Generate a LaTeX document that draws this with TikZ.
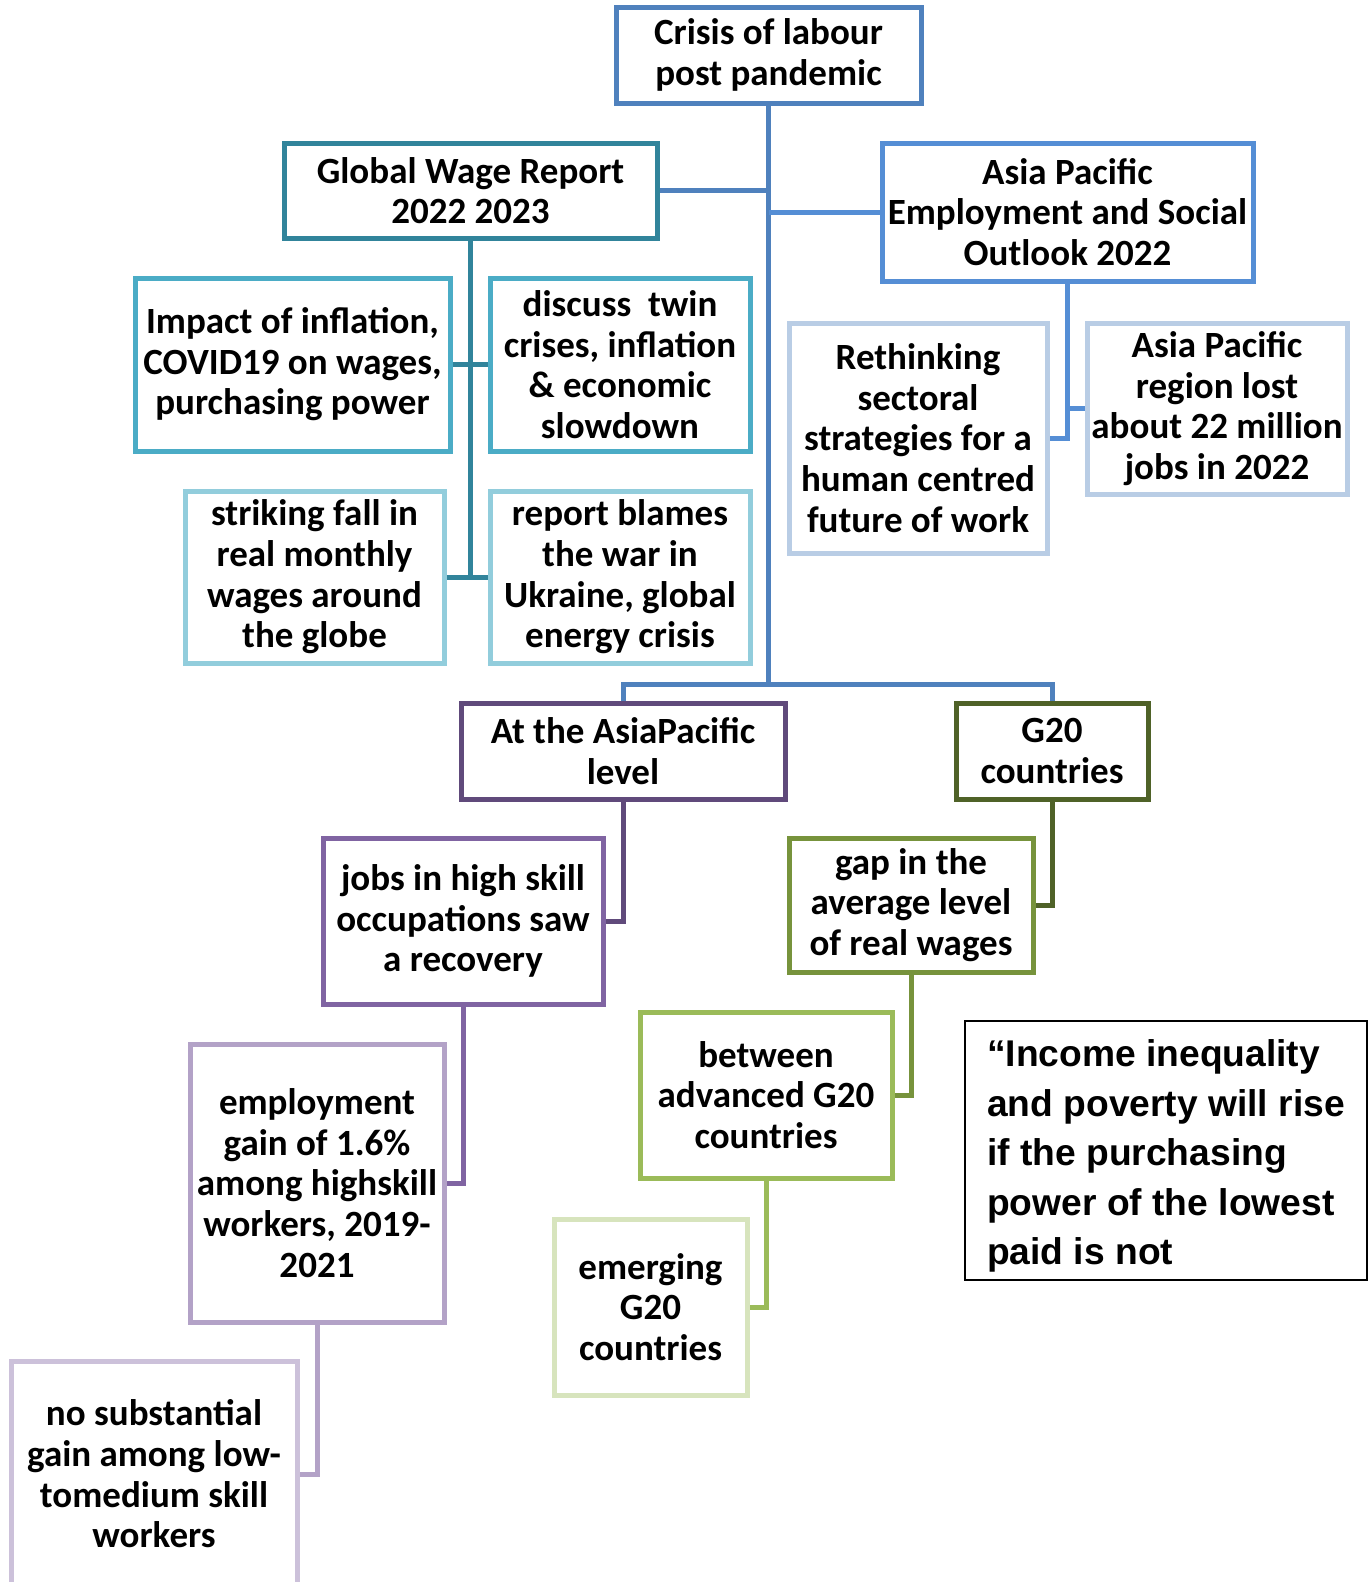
\documentclass[tikz,border=0pt]{standalone}
\usepackage{fontspec}
\setmainfont{Carlito}
\newfontfamily\qfont{Liberation Sans}
\definecolor{trunkc}{HTML}{4F81BD}
\definecolor{rootc}{HTML}{4F81BD}
\definecolor{gwc}{HTML}{31849B}
\definecolor{gwa}{HTML}{4BACC6}
\definecolor{gwb}{HTML}{92CDDC}
\definecolor{apc}{HTML}{558ED5}
\definecolor{apa}{HTML}{B9CDE5}
\definecolor{lvc}{HTML}{604A7B}
\definecolor{lva}{HTML}{8064A2}
\definecolor{lvb}{HTML}{B3A2C7}
\definecolor{lvd}{HTML}{CCC1DA}
\definecolor{gc}{HTML}{4F6228}
\definecolor{ga}{HTML}{77933C}
\definecolor{gb}{HTML}{9BBB59}
\definecolor{gd}{HTML}{D7E4BD}
\tikzset{
  bx/.style={draw, line width=5pt, fill=white, inner sep=0pt, align=center,
    font=\fontsize{37}{40.6}\selectfont\bfseries, text=black},
  cn/.style={line width=5pt},
}
\begin{document}
\begin{tikzpicture}[x=1pt,y=-1pt]
\useasboundingbox (0,0) rectangle (1371,1582);
\clip (0,0) rectangle (1371,1582);
% nodes
\node[bx, draw=rootc, minimum width=305, minimum height=96] (root) at (768.5,55) {Crisis of labour\\post pandemic};
\node[bx, draw=gwc, minimum width=373, minimum height=95] (gw) at (470.5,190.5) {Global Wage Report\\2022 2023};
\node[bx, draw=apc, minimum width=371, minimum height=138] (ap) at (1067.5,212) {Asia Pacific\\Employment and Social\\Outlook 2022};
\node[bx, draw=gwa, minimum width=315, minimum height=173] (imp) at (292.5,364.5) {Impact of inflation,\\COVID19 on wages,\\purchasing power};
\node[bx, draw=gwa, minimum width=260, minimum height=173] (disc) at (620,364.5) {discuss~ twin\\crises, inflation\\\& economic\\slowdown};
\node[bx, draw=gwb, minimum width=259, minimum height=172] (strike) at (314.5,577) {striking fall in\\real monthly\\wages around\\the globe};
\node[bx, draw=gwb, minimum width=260, minimum height=172] (rep) at (620,577) {report blames\\the war in\\Ukraine, global\\energy crisis};
\node[bx, draw=apa, minimum width=258, minimum height=230] (reth) at (918,438) {Rethinking\\sectoral\\strategies for a\\human centred\\future of work};
\node[bx, draw=apa, minimum width=260, minimum height=171] (lost) at (1217,408.5) {Asia Pacific\\region lost\\about 22 million\\jobs in 2022};
\node[bx, draw=lvc, minimum width=324, minimum height=96] (lvl) at (623,751) {At the AsiaPacific\\level};
\node[bx, draw=gc, minimum width=192, minimum height=96] (g20) at (1052,751) {G20\\countries};
\node[bx, draw=lva, minimum width=280, minimum height=166] (jobs) at (463,921) {jobs in high skill\\occupations saw\\a recovery};
\node[bx, draw=lvb, minimum width=254, minimum height=278] (emp) at (317,1183) {employment\\gain of 1.6\%\\among highskill\\workers, 2019-\\2021};
\node[bx, draw=lvd, minimum width=286, minimum height=226] (nosub) at (154,1474) {no substantial\\gain among low-\\tomedium skill\\workers};
\node[bx, draw=ga, minimum width=244, minimum height=134] (gap) at (911,905) {gap in the\\average level\\of real wages};
\node[bx, draw=gb, minimum width=252, minimum height=166] (betw) at (766,1095) {between\\advanced G20\\countries};
\node[bx, draw=gd, minimum width=193, minimum height=176] (emer) at (650.5,1307) {emerging\\G20\\countries};
\node[draw=black, line width=2pt, inner sep=0pt, minimum width=402, minimum height=259] (quote) at (1166,1150.5) {};
\node[anchor=west, inner sep=0pt, align=left, font=\qfont\fontsize{37.2}{49.4}\selectfont\bfseries] (qtext) at (987,1156) {“Income inequality\\and poverty will rise\\if the purchasing\\power of the lowest\\paid is not};
% connectors
\coordinate (tb) at (768.5,684);
\draw[cn, draw=trunkc] (root.south) -- (tb);
\draw[cn, draw=trunkc] (lvl.north) -- (lvl.north |- tb) -- (g20.north |- tb) -- (g20.north);
\draw[cn, draw=trunkc] (gw.east) -- (gw.east -| root.south);
\draw[cn, draw=apc] (ap.west) -- (ap.west -| root.south);
\draw[cn, draw=gwc] (gw.south) -- (gw.south |- strike.east);
\draw[cn, draw=gwc] (imp.east) -- (disc.west);
\draw[cn, draw=gwc] (strike.east) -- (rep.west);
\draw[cn, draw=apc] (ap.south) |- (reth.east);
\draw[cn, draw=apc] (lost.west) -- (lost.west -| ap.south);
\draw[cn, draw=lvc] (lvl.south) |- (jobs.east);
\draw[cn, draw=lva] (jobs.south) |- (emp.east);
\draw[cn, draw=lvb] (emp.south) |- (nosub.east);
\draw[cn, draw=gc] (g20.south) |- (gap.east);
\draw[cn, draw=ga] (gap.south) |- (betw.east);
\draw[cn, draw=gb] (betw.south) |- (emer.east);
\end{tikzpicture}
\end{document}
